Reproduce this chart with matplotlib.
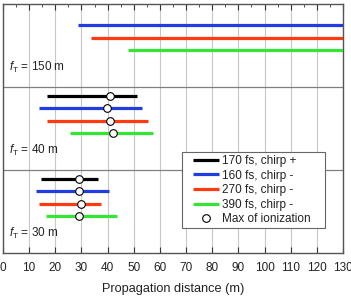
import matplotlib
matplotlib.use("Agg")
import matplotlib.pyplot as plt
from matplotlib.lines import Line2D
from matplotlib.legend_handler import HandlerLine2D
import numpy as np

plt.rcParams['font.family'] = ['Liberation Sans', 'DejaVu Sans']
plt.rcParams['mathtext.fontset'] = 'custom'
plt.rcParams['mathtext.it'] = 'Liberation Sans:italic'
plt.rcParams['mathtext.rm'] = 'Liberation Sans'

series_labels = ["170 fs, chirp +", "160 fs, chirp -", "270 fs, chirp -", "390 fs, chirp -"]
series_colors = ["#000000", "#1f3de0", "#ff3a10", "#33e633"]

focal_labels = ["150 m", "40 m", "30 m"]

# start, end, max of ionization (None = not present)
starts_150 = [None, 28.7, 33.6, 47.7]
ends_150 = [None, 130.0, 130.0, 130.0]
max_150 = [None, None, None, None]

starts_40 = [16.7, 13.8, 16.7, 25.7]
ends_40 = [51.4, 53.0, 55.4, 57.4]
max_40 = [41.0, 39.9, 41.0, 42.2]

starts_30 = [14.5, 12.6, 13.6, 16.4]
ends_30 = [36.5, 40.4, 37.4, 43.5]
max_30 = [28.9, 28.9, 30.0, 28.9]

bands = [(starts_150, ends_150, max_150),
         (starts_40, ends_40, max_40),
         (starts_30, ends_30, max_30)]

FS = 8.5

fig = plt.figure(figsize=(3.51, 2.97), dpi=100)
ax = fig.add_axes([3/351, 1 - 253/297, 340/351, 249/297])

nb = len(bands)
for b, (st, en, mx) in enumerate(bands):
    top = nb - b
    for k in range(len(series_labels)):
        y = top - (0.104 + 0.152 * k)
        if st[k] is not None:
            ax.plot([st[k], en[k]], [y, y], color=series_colors[k], lw=2.3,
                    solid_capstyle='butt', zorder=3)
        if mx[k] is not None:
            ax.plot([mx[k]], [y], 'o', ms=5.5, mfc='white', mec='black',
                    mew=0.8, zorder=4)
    ax.text(2.4, top - 0.77, r"$f_\mathrm{T}$ = " + focal_labels[b],
            fontsize=FS, va='center', ha='left', color='#222222')
    if b > 0:
        ax.axhline(top, color='#808080', lw=0.9, zorder=2)

ax.set_xlim(0, 130)
ax.set_ylim(0, nb)
ax.set_xticks(np.arange(0, 131, 10))
ax.set_xticks(np.arange(0, 131, 5), minor=True)
ax.set_yticks([])
ax.tick_params(axis='x', which='both', direction='in', top=True, labelsize=FS,
               pad=6.5, colors='#333333', labelcolor='#222222')
ax.tick_params(axis='x', which='major', length=4)
ax.tick_params(axis='x', which='minor', length=2, bottom=False)
ax.grid(axis='x', which='major', color='#c8c8c8', lw=0.8, zorder=1)
for s in ax.spines.values():
    s.set_color('#555555')
    s.set_linewidth(1.0)
ax.set_xlabel("Propagation distance (m)", fontsize=9.2, labelpad=6.5, color='#222222')


class OffsetLine(HandlerLine2D):
    """Line handle that leaves a gap at its left side."""
    def __init__(self, gap, **kw):
        super().__init__(**kw)
        self.gap = gap

    def create_artists(self, legend, orig_handle, xdescent, ydescent,
                       width, height, fontsize, trans):
        arts = super().create_artists(legend, orig_handle, xdescent, ydescent,
                                      width, height, fontsize, trans)
        g = self.gap * fontsize
        for a in arts:
            xd = np.asarray(a.get_xdata(), float)
            if len(xd) >= 2:
                a.set_xdata(np.linspace(xd[0] + g, xd[-1] - 0.5, len(xd)))
            else:
                a.set_xdata(xd + g / 2)
        return arts


handles = [Line2D([], [], color=c, lw=2.3, solid_capstyle='butt')
           for c in series_colors]
handles.append(Line2D([], [], ls='none', marker='o', ms=5.5, mfc='white',
                      mec='black', mew=0.8))
hmap = {h: OffsetLine(0.7) for h in handles}
leg = ax.legend(handles, series_labels + ["Max of ionization"],
                handler_map=hmap,
                loc='upper left', bbox_to_anchor=((181.7 - 3) / 340, 1 - (152 - 4) / 249),
                fontsize=FS, frameon=True, fancybox=False, framealpha=1,
                edgecolor='#666666', handlelength=2.95, handletextpad=0.25,
                labelspacing=0.22, borderpad=0.25, borderaxespad=0)
leg.get_frame().set_linewidth(0.8)
leg.set_zorder(5)
for t in leg.get_texts():
    t.set_color('#222222')

frame = leg.get_frame()
_orig_set_bounds = frame.set_bounds


def _set_bounds(*args):
    if len(args) == 1:
        x, y, w, h = args[0]
    else:
        x, y, w, h = args
    _orig_set_bounds(x, y, w + 11, h)


frame.set_bounds = _set_bounds

fig.savefig("out.png", dpi=100)
